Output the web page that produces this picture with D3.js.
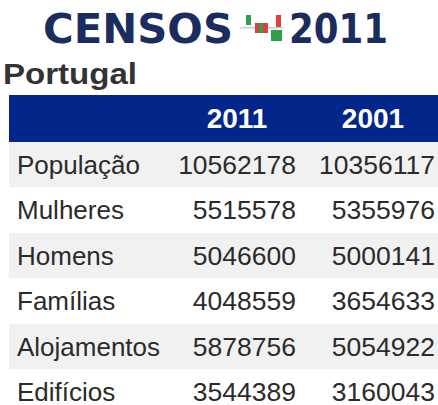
<!DOCTYPE html>
<html><head><meta charset="utf-8">
<script src="https://cdn.jsdelivr.net/npm/d3@7"></script>
<style>html,body{margin:0;padding:0;background:#fff;overflow:hidden}</style>
</head><body>
<script>
const title = "Portugal";
const years = ["2011", "2001"];
const categories = ["População", "Mulheres", "Homens", "Famílias", "Alojamentos", "Edifícios"];
const values2011 = [10562178, 5515578, 5046600, 4048559, 5878756, 3544389];
const values2001 = [10356117, 5355976, 5000141, 3654633, 5054922, 3160043];

const W = 438, H = 405;
const svg = d3.select("body").append("svg").attr("width", W).attr("height", H);

// Logo
const logo = svg.append("g");
logo.append("text").attr("x", 43).attr("y", 43).attr("textLength", 190).attr("lengthAdjust", "spacingAndGlyphs")
  .attr("font-family", "DejaVu Sans").attr("font-weight", "bold").attr("font-size", 40).attr("fill", "#1b2d5e").text("CENSOS");
logo.append("text").attr("x", 289).attr("y", 43).attr("textLength", 99).attr("lengthAdjust", "spacingAndGlyphs")
  .attr("font-family", "DejaVu Sans").attr("font-weight", "bold").attr("font-size", 40).attr("fill", "#1b2d5e").text("2011");
const icon = [
  {x:240,y:27,w:43,h:1.5,c:"#c9ccd6"},
  {x:246,y:15,w:5,h:10,c:"#2ea04a"},
  {x:255,y:23,w:4,h:10,c:"#e0403c"},
  {x:259,y:23,w:4,h:10,c:"#2ea04a"},
  {x:263,y:23,w:5,h:10,c:"#e0403c"},
  {x:276,y:15,w:5,h:12,c:"#e0403c"},
  {x:271,y:30,w:11,h:11,c:"#2ea04a"}
];
logo.selectAll("rect").data(icon).join("rect")
  .attr("x", d=>d.x).attr("y", d=>d.y).attr("width", d=>d.w).attr("height", d=>d.h).attr("fill", d=>d.c);

// Title
svg.append("text").attr("transform", "translate(3,84) scale(1.14,1)")
  .attr("font-family", "Liberation Sans, Arial").attr("font-weight", "bold").attr("font-size", 29)
  .attr("fill", "#333").text(title);

// Table
const left = 9, headerTop = 95, headerH = 47;
const y = d3.scaleBand().domain(categories).range([headerTop + headerH, headerTop + headerH + 45.5 * categories.length]);
const colRight = d3.scaleOrdinal().domain(years).range([296, 435]);
const colCenter = d3.scaleOrdinal().domain(years).range([237, 373]);

svg.append("rect").attr("x", left).attr("y", headerTop).attr("width", W - left).attr("height", headerH).attr("fill", "#02268a");
svg.selectAll("text.hd").data(years).join("text").attr("class", "hd")
  .attr("x", d => colCenter(d)).attr("y", headerTop + 33).attr("text-anchor", "middle")
  .attr("font-family", "Liberation Sans, Arial").attr("font-weight", "bold").attr("font-size", 28)
  .attr("fill", "#fff").text(d => d);

const rows = svg.selectAll("g.row").data(categories.map((c, i) => ({c, v: [values2011[i], values2001[i]], i})))
  .join("g").attr("class", "row");
rows.append("rect").attr("x", left).attr("y", d => y(d.c)).attr("width", W - left).attr("height", y.bandwidth())
  .attr("fill", d => d.i % 2 === 0 ? "#f1f1f1" : "#ffffff");
const fs = 25;
rows.append("text").attr("transform", d => `translate(17,${y(d.c) + y.bandwidth()/2 + 9}) scale(1.04,1)`)
  .attr("font-family", "Liberation Sans, Arial").attr("font-size", fs).attr("fill", "#2b2b2b").text(d => d.c);
years.forEach((yr, k) => {
  rows.append("text").attr("transform", d => `translate(${colRight(yr)},${y(d.c) + y.bandwidth()/2 + 9}) scale(1.06,1)`)
    .attr("text-anchor", "end")
    .attr("font-family", "Liberation Sans, Arial").attr("font-size", fs).attr("fill", "#2b2b2b").text(d => d.v[k]);
});
</script>
</body></html>
